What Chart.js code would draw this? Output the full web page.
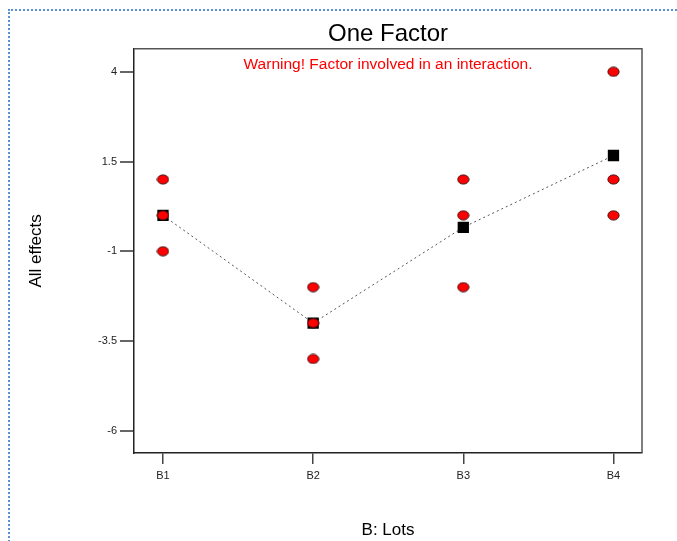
<!DOCTYPE html>
<html>
<head>
<meta charset="utf-8">
<script src="https://cdn.jsdelivr.net/npm/chart.js@4"></script>
<style>
  html, body { margin: 0; padding: 0; background: #fff; }
  #wrap { position: relative; width: 677px; height: 541px; }
  #frame { position: absolute; left: 8px; top: 9px; right: -4px; bottom: -4px;
           border-left: 2px dotted #5b8fd6; border-top: 2px dotted #5b8fd6; pointer-events: none; }
</style>
</head>
<body>
<div id="wrap">
  <canvas id="oneFactorChart" width="677" height="541"></canvas>
  <div id="frame"></div>
</div>
<script>
// Data
const lots = ['B1', 'B2', 'B3', 'B4'];
const lotPos = [1, 2, 3, 4];
const obsLot = [1, 1, 1, 2, 2, 2, 3, 3, 3, 4, 4, 4];
const obsEffect = [1, 0, -1, -2, -3, -4, 1, 0, -2, 4, 1, 0];
const meanEffect = [0, -3, -0.333, 1.667];
const yTicks = [-6, -3.5, -1, 1.5, 4];

const FONT = 'Liberation Sans, Arial, sans-serif';

// red ellipse marker (slightly wider than tall, like the original)
const dot = document.createElement('canvas');
dot.width = 13; dot.height = 11;
(function () {
  const c = dot.getContext('2d');
  c.beginPath();
  c.ellipse(6.5, 5.5, 5.6, 4.6, 0, 0, Math.PI * 2);
  c.fillStyle = '#ff0000';
  c.fill();
  c.lineWidth = 1;
  c.strokeStyle = '#3a1010';
  c.stroke();
})();

// frame + warning text inside the plot
const plotExtras = {
  id: 'plotExtras',
  afterDraw(chart) {
    const { ctx, chartArea: a } = chart;
    ctx.save();
    ctx.strokeStyle = '#555';
    ctx.lineWidth = 1.5;
    ctx.beginPath();
    ctx.moveTo(a.left, a.top);
    ctx.lineTo(a.right, a.top);
    ctx.lineTo(a.right, a.bottom);
    ctx.stroke();
    ctx.fillStyle = '#ff0000';
    ctx.font = '15.5px ' + FONT;
    ctx.textAlign = 'center';
    ctx.textBaseline = 'middle';
    ctx.fillText('Warning! Factor involved in an interaction.', (a.left + a.right) / 2, a.top + 16);
    ctx.restore();
  }
};

const ctx = document.getElementById('oneFactorChart').getContext('2d');
new Chart(ctx, {
  type: 'scatter',
  data: {
    datasets: [
      {
        label: 'Observed',
        data: obsLot.map((x, i) => ({ x: x, y: obsEffect[i] })),
        pointStyle: dot,
        pointRadius: 5,
        showLine: false
      },
      {
        label: 'Mean',
        data: lotPos.map((x, i) => ({ x: x, y: meanEffect[i] })),
        showLine: true,
        borderColor: '#555',
        borderWidth: 1,
        borderDash: [2, 3],
        pointStyle: 'rect',
        pointRadius: 8,
        pointBackgroundColor: '#000',
        pointBorderColor: '#000',
        pointBorderWidth: 0
      }
    ]
  },
  options: {
    responsive: false,
    animation: false,
    layout: { padding: { left: 0, right: 35, top: 0, bottom: 0 } },
    scales: {
      x: {
        type: 'linear',
        min: 0.807,
        max: 4.19,
        afterFit: (s) => { s.height = 88; },
        afterBuildTicks: (s) => { s.ticks = lotPos.map(v => ({ value: v })); },
        grid: { drawOnChartArea: false, drawTicks: true, tickLength: 11, color: '#444', lineWidth: 1.5 },
        border: { color: '#222', width: 1.5 },
        ticks: {
          callback: (v) => lots[lotPos.indexOf(v)],
          font: { family: FONT, size: 11 },
          color: '#222',
          padding: 5,
          maxRotation: 0
        },
        title: { display: true, text: 'B: Lots', font: { family: FONT, size: 17 }, color: '#000', padding: { top: 0, bottom: 0 } }
      },
      y: {
        min: -6.62,
        max: 4.64,
        afterFit: (s) => { s.width = 134; },
        afterBuildTicks: (s) => { s.ticks = yTicks.map(v => ({ value: v })); },
        grid: { drawOnChartArea: false, drawTicks: true, tickLength: 14, color: '#666', lineWidth: 2 },
        border: { color: '#222', width: 1.5 },
        ticks: {
          callback: (v) => String(v),
          font: { family: FONT, size: 11 },
          color: '#222',
          padding: 3
        },
        title: { display: true, text: 'All effects', font: { family: FONT, size: 17 }, color: '#000', padding: { top: 26, bottom: 0 } }
      }
    },
    plugins: {
      legend: { display: false },
      tooltip: { enabled: false },
      title: {
        display: true,
        fullSize: false,
        text: 'One Factor',
        font: { family: FONT, size: 24, weight: 'normal' },
        color: '#000',
        padding: { top: 20, bottom: 0 }
      }
    }
  },
  plugins: [plotExtras]
});
</script>
</body>
</html>
